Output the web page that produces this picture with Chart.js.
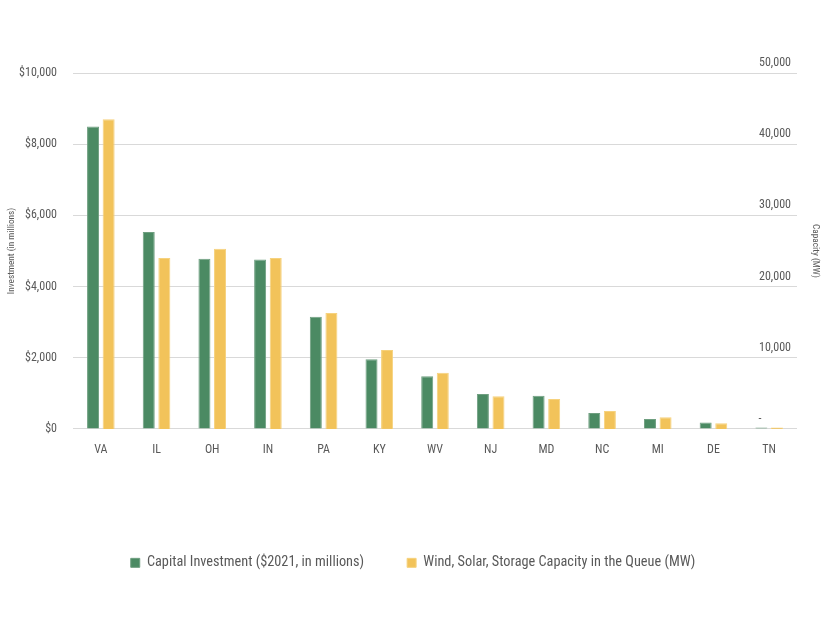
<!DOCTYPE html>
<html>
<head>
<meta charset="utf-8">
<script src="https://cdn.jsdelivr.net/npm/chart.js@4"></script>
<style>
  html, body { margin: 0; padding: 0; background: #fff; }
  #wrap { width: 826px; height: 620px; }
</style>
</head>
<body>
<div id="wrap"><canvas id="grafico"></canvas></div>
<script>
// valores
const estados = ['VA', 'IL', 'OH', 'IN', 'PA', 'KY', 'WV', 'NJ', 'MD', 'NC', 'MI', 'DE', 'TN'];
const investimento = [8500, 5530, 4780, 4760, 3150, 1960, 1480, 980, 930, 450, 280, 180, 40];   // $ milhões
const capacidade = [43500, 24000, 25300, 24000, 16300, 11100, 7900, 4600, 4200, 2500, 1650, 800, 200]; // MW

const nomeInvest = 'Capital Investment ($2021, in millions)';
const nomeCap = 'Wind, Solar, Storage Capacity in the Queue (MW)';
const ticksInvest = [0, 2000, 4000, 6000, 8000, 10000];
const ticksCap = [0, 10000, 20000, 30000, 40000, 50000];

// Roboto "condensed" (o peso recebe o font-stretch na string da fonte)
const FONTE = 'Roboto';
const ESTICA = 'condensed';
const CINZA = '#595959';

const ctx = document.getElementById('grafico').getContext('2d');

new Chart(ctx, {
    type: 'bar',
    data: {
        labels: estados,
        datasets: [
            {
                label: nomeInvest,
                data: investimento,
                yAxisID: 'y',
                backgroundColor: '#4b8a63',
                borderColor: '#6f9f80',
                borderWidth: 1,
                categoryPercentage: 0.56,
                barPercentage: 0.77
            },
            {
                label: nomeCap,
                data: capacidade,
                yAxisID: 'y2',
                backgroundColor: '#f2c35a',
                borderColor: '#f6d27e',
                borderWidth: 1,
                categoryPercentage: 0.56,
                barPercentage: 0.77
            }
        ]
    },
    options: {
        responsive: true,
        maintainAspectRatio: false,
        animation: false,
        layout: { padding: { top: 73, left: 2, right: 2, bottom: 40 } },
        plugins: {
            tooltip: { enabled: false },
            legend: {
                position: 'bottom',
                labels: {
                    font: { family: FONTE, weight: ESTICA, size: 14.3 },
                    color: CINZA,
                    boxWidth: 9,
                    boxHeight: 9,
                    padding: 43,
                    useBorderRadius: false
                }
            }
        },
        scales: {
            x: {
                grid: { display: false, drawTicks: false },
                border: { display: false },
                ticks: { font: { family: FONTE, weight: ESTICA, size: 12 }, color: CINZA, padding: 14 },
                title: { display: true, text: '', font: { size: 12 }, padding: { top: 0, bottom: 27 } }
            },
            y: {
                position: 'left',
                min: 0,
                max: 10000,
                afterBuildTicks: (eixo) => { eixo.ticks = ticksInvest.map(v => ({ value: v })); },
                afterFit: (eixo) => { eixo.width = 71; },
                grid: { color: '#d9d9d9', lineWidth: 1, drawTicks: false },
                border: { display: false },
                ticks: {
                    font: { family: FONTE, weight: ESTICA, size: 12 },
                    color: CINZA,
                    padding: 16,
                    callback: (v) => '$' + v.toLocaleString('en-US')
                },
                title: {
                    display: true,
                    text: 'Investment (in millions)',
                    font: { family: FONTE, weight: ESTICA, size: 9.3 },
                    color: CINZA,
                    padding: { top: 4, bottom: 3 }
                }
            },
            y2: {
                position: 'right',
                min: 0,
                max: 50000,
                afterBuildTicks: (eixo) => { eixo.ticks = ticksCap.map(v => ({ value: v })); },
                afterFit: (eixo) => { eixo.width = 27; },
                grid: { display: false, drawTicks: false },
                border: { display: false },
                ticks: {
                    mirror: true,
                    padding: -6,
                    labelOffset: -10,
                    font: { family: FONTE, weight: ESTICA, size: 12 },
                    color: CINZA,
                    callback: (v) => v === 0 ? '-\u2007\u2007\u2007\u2007\u2007' : v.toLocaleString('en-US')
                },
                title: {
                    display: true,
                    text: 'Capacity (MW)',
                    font: { family: FONTE, weight: ESTICA, size: 9.3 },
                    color: CINZA,
                    padding: { top: 3, bottom: 18 }
                }
            }
        }
    }
});
</script>
</body>
</html>
